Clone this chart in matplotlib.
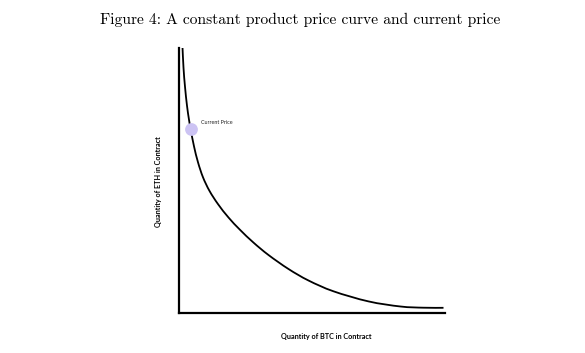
import matplotlib
matplotlib.use("Agg")
import matplotlib.pyplot as plt
import numpy as np
from matplotlib.path import Path
from matplotlib.patches import PathPatch

# Curve points (x = BTC quantity, y = ETH quantity, arbitrary units)
curve_x = [4.0, 5.0, 6.5, 8.5, 10.5, 12.3, 15.5, 19.5, 24.5, 31.0, 39.5, 50.0, 61.5,
           75.0, 90.0, 110.0, 130.0, 155.0, 190.0, 222.0, 245.0, 265.0]
curve_y = [265.4, 245.0, 226.0, 207.0, 193.0, 182.6, 166.4, 150.4, 135.4, 121.8, 108.6,
           95.2, 82.9, 70.1, 57.7, 43.7, 32.2, 21.4, 11.3, 6.2, 5.0, 4.9]

current_x = [12.4]
current_y = [183.3]
current_label = "Current Price"

title = "Figure 4: A constant product price curve and current price"
x_label = "Quantity of BTC in Contract"
y_label = "Quantity of ETH in Contract"


def smooth_path(xs, ys):
    """Catmull-Rom through the read points, expressed as cubic Bezier segments."""
    p = np.column_stack([xs, ys]).astype(float)
    verts = [p[0]]
    codes = [Path.MOVETO]
    n = len(p)
    for i in range(n - 1):
        p0 = p[i - 1] if i > 0 else p[i]
        p1, p2 = p[i], p[i + 1]
        p3 = p[i + 2] if i + 2 < n else p[i + 1]
        c1 = p1 + (p2 - p0) / 6.0
        c2 = p2 - (p3 - p1) / 6.0
        verts += [c1, c2, p2]
        codes += [Path.CURVE4] * 3
    return Path(verts, codes)


fig = plt.figure(figsize=(5.85, 3.53), dpi=100)
ax = fig.add_axes([178.5/585, 40.3/353, 266/585, 265/353])
ax.add_patch(PathPatch(smooth_path(curve_x, curve_y), fill=False, edgecolor="black",
                       lw=1.3, capstyle="butt"))
ax.plot(current_x, current_y, "o", ms=9.2, color="#CCC3F3", mec="none", zorder=3)
ax.text(current_x[0] + 10, current_y[0] + 6.5, current_label, fontsize=3.9,
        family="Lato", color="#222222", va="center", ha="left")
ax.set_xlim(0, 266)
ax.set_ylim(0, 265)
for s in ["top", "right"]:
    ax.spines[s].set_visible(False)
for s in ["left", "bottom"]:
    ax.spines[s].set_linewidth(1.6)
ax.set_xticks([])
ax.set_yticks([])

fig.text(326/585, 1 - 337/353, x_label, fontsize=5.2, family="Lato", weight="bold",
         ha="center", va="center")
fig.text(158/585, 1 - 181.5/353, y_label, fontsize=5.2, family="Lato", weight="bold",
         ha="center", va="center", rotation=90)
fig.text(300/585, 1 - 20/353, title, fontsize=11.2, family="cmr10",
         ha="center", va="center")

fig.savefig("out.png", dpi=100)
